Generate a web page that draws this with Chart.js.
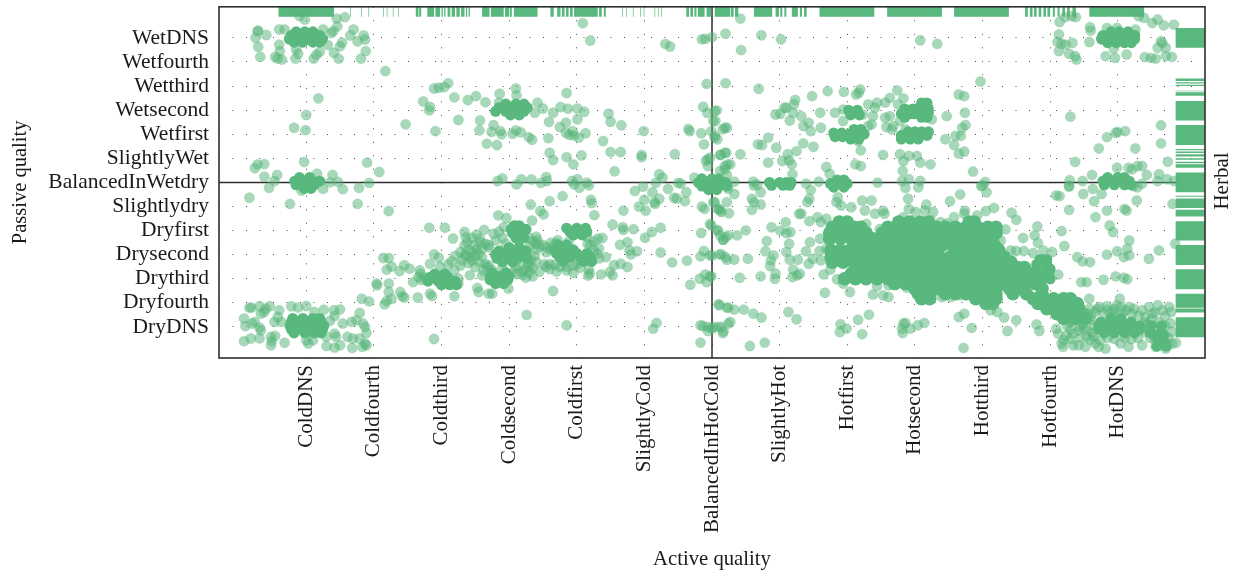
<!DOCTYPE html>
<html><head><meta charset="utf-8">
<style>html,body{margin:0;padding:0;background:#fff}#w{width:1239px;height:578px}</style>
<script src="https://cdn.jsdelivr.net/npm/chart.js@4/dist/chart.umd.min.js"></script>
</head><body><div id="w"><canvas id="c" width="1239" height="578"></canvas></div>
<script>
const activeLabels=["ColdDNS","Coldfourth","Coldthird","Coldsecond","Coldfirst","SlightlyCold","BalancedInHotCold","SlightlyHot","Hotfirst","Hotsecond","Hotthird","Hotfourth","HotDNS"];
const passiveLabels=["DryDNS","Dryfourth","Drythird","Drysecond","Dryfirst","Slightlydry","BalancedInWetdry","SlightlyWet","Wetfirst","Wetsecond","Wetthird","Wetfourth","WetDNS"];
const axisMin=-1.29, axisMax=13.29, centre=6;

// single herbs, [active, passive, ...]
const herbsUpperCold=[-0.02,12.76,-0.1,12.9,-0.72,12.28,-0.71,12.3,-0.59,12.12,-0.75,12,-0.71,11.63,-0.68,11.21,-0.4,12.35,-0.32,12.35,-0.4,11.72,-0.39,11.45,-0.46,11.21,-0.42,11.14,-0.36,11.1,-0.16,11.14,-0.12,11.34,-0.15,11.52,0.25,12.35,0.37,12.2,0.4,12.28,0.46,12.48,0.45,12.8,0.57,12.86,0.7,12.35,0.65,12.1,0.53,11.8,0.76,11.86,0.85,12.1,0.87,11.93,0.88,11.45,0.81,11.14,0.48,11.14,0.41,11.38,0.5,11.65,0.32,11.7,0.2,11.42,0.15,11.3,0.11,11.14,1.17,10.62,0.18,9.49,0,8.8,-0.18,8.27,-0.01,8.17,1.47,8.41,1.89,9.9,1.96,9.93,2.04,9.96,2.1,10.12,2.19,9.53,2.39,9.42,2.51,9.58,2.65,9.33,1.73,9.36,1.83,9.13,1.82,8.99,2.25,8.59,1.91,8.13,2.57,8.57,2.56,8.16,2.77,8.38,2.74,8.1,2.87,8.13,2.89,8,2.67,7.61,2.82,7.55,3.05,8.02,3.1,8.16,3.17,8.08,3.29,7.88,3.34,7.77,3.58,7.84,2.86,9.68,3.1,9.9,3.11,9.61,2.85,9.31,3.42,9.31,3.5,9.07,3.38,8.89,3.65,8.89,3.76,9.13,3.87,9.06,4.01,9.07,4.11,8.93,3.85,9.71,3.59,8.51,3.84,8.48,4.01,8.62,3.75,8.3,3.84,8.06,3.89,7.97,3.94,8.13,3.96,7.95,4.03,7.86,4.13,8.04,4.47,8.85,4.5,8.52,4.66,8.37,4.39,7.72,4.99,8.13,3.6,7.23,3.65,6.93,3.85,7.05,4.07,7.12,3.95,6.75,4.5,7.26,4.65,7.26,4.96,7.14,4.96,7.05,5.45,7.17,4.56,6.46,4.09,12.61,4.2,11.89,5.31,11.75,5.38,11.64,5.85,11.94,5.9,11.96,6,12.03,6.2,12.17,5.92,10.09,6.2,10.12,5.87,9.14,6.07,8.99,5.93,8.89,6.05,8.55,5.65,8.22,5.67,8.13,5.84,8.04,5.99,8.13,6.04,7.93,6.16,8.2,6.22,8.27,5.88,7.58,6.08,7.79,5.94,6.96,5.91,6.9,5.94,6.68,6.13,7.14,6.21,7.23,6.23,6.75,6.19,6.54,-0.76,6.59,-0.72,6.75,-0.62,6.76,-0.62,6.24,-0.43,6.31,-0.47,6.06,-0.03,6.85,0.9,6.82,1.08,6.43,0.16,6.36,0.39,6.31,0.35,6,0.47,6.02,0.93,5.98,-0.55,5.78,0.78,5.78,0.54,5.72,2.83,6.06,2.9,6.16,3.11,5.92,3.18,6.13,3.33,6.12,3.47,5.98,3.55,6.23,3.56,6.06,3.93,6.06,4.01,6.13,3.96,5.92,4.15,5.99,4.18,5.88,4.04,5.78,5.22,6.34,5.27,6.2,5.17,5.98,5.5,5.98,5.54,5.95,5.74,6.2,4.98,5.83,4.86,5.64];

const herbsLowerCold=[-0.84,5.36,-0.24,5.11,-0.07,5.66,0.76,5.11,1.22,4.81,0.25,5.73,5.12,5.59,5.35,5.73,5.22,5.32,5,5.28,4.92,5,5.15,5.18,5.16,5.11,5.02,4.83,5.44,5.36,5.48,5.33,5.6,5.22,5.62,5.59,4.69,4.83,4.53,4.25,4.68,4.14,4.69,4.03,4.84,4.06,5.24,4.12,5.11,3.94,5.01,3.7,4.64,3.41,4.75,3.52,4.78,3.18,4.89,3.14,4.8,3.01,5.24,3.09,5.41,2.68,5.63,2.75,5.85,5,5.89,4.9,6.04,5.18,6.11,4.9,6.14,4.77,5.84,3.9,5.99,4.21,6.09,4.01,6.16,3.62,6.24,3.8,5.88,3.15,5.83,2.93,6,2.96,6.14,3.01,5.82,2,5.9,2.18,5.92,1.86,5.99,2.1,5.68,1.75,6.11,0.9,6.24,0.8,5.83,0.07,5.87,0.04,5.94,0,6,-0.07,5.94,-0.17,6.09,0,6.17,-0.18,5.83,-0.65,6.24,0.14,3.79,5.43,3.6,5.22,3.32,5.08,4.21,5.28,4.22,5.14,4.26,4.64,3.46,4.81,3.51,4.67,3.34,4.42,2.84,4.63,2.96,4.52,2.92,4.14,1.82,4.12,2.05,4.12,2.34,3.94,2.17,3.67,2.63,4.03,2.52,3.83,2.77,3.87,2.36,3.72,2.38,3.52,2.34,3.38,2.28,3.11,2.57,3.66,2.6,3.25,2.52,3.25,2.8,3.59,2.45,2.76,2.3,2.76,2.15,2.73,2.5,2.49,1.89,3.01,1.96,2.87,1.83,2.62,1.68,2.35,1.69,2.21,1.66,2.07,1.58,1.86,2.19,2.35,2.42,2.15,2.6,2.14,2.67,2.49,2.25,1.8,2.19,1.28,1.83,1.38,1.86,1.28,2.53,1.62,2.55,1.45,2.7,1.38,2.75,1.38,2.99,1.59,3.65,1.49,3.26,0.5,3.85,0.07,1.89,-0.5,5.18,0.17,5.13,-0.07,1.14,2.86,1.22,2.86,1.19,2.38,1.26,2.51,1.38,2.32,1.45,2.56,1.53,2.42,1.04,1.8,1.05,1.73,1.22,1.8,1.22,1.45,1.39,1.45,1.42,1.27,1.45,1.22,1.26,1.17,1.19,1.08,1.16,0.94,1.65,1.22,0.82,1.17,0.93,1.06,4.18,2.38,4.19,2.22,4.17,2.13,4.36,2.18,4.49,2.28,4.53,2.14,4.55,2.56,4.65,2.62,4.75,2.49,4.43,2.9,4.33,3.25,4.31,3.66,4.38,3.69,4.16,3.45,3.3,3.7,3.42,3.6,3.5,3.4,3.4,3.2,3.55,3.1,3.3,2.5,3.45,2.3,3.52,2.6,3.4,2.7,3.35,2.1,3.2,2.3,3.25,2.05,3.1,2.45,3.6,2.4,3.7,2.3,3.85,2.35,3.95,2.25,4.05,2.45,3.72,3.6,3.88,3.55,2.9,3.7,2.95,3.45,2.7,3.4,2.65,2.6,2.9,2.45,-0.84,0.8,-0.81,0.8,-0.69,0.86,-0.6,0.76,-0.54,0.86,-0.62,0.62,-0.67,0.55,-0.4,0.69,-0.42,0.41,-0.47,0.21,-0.37,0.21,-0.22,0.86,-0.12,0.8,0,0.87,0.12,0.62,0.26,0.72,0.41,0.69,0.5,0.73,0.42,0.46,0.35,0.25,-0.92,0.35,-0.9,0.04,-0.8,0.14,-0.76,0.21,-0.69,-0.03,-0.67,-0.14,-0.82,-0.48,-0.92,-0.59,-0.69,-0.47,-0.52,-0.41,-0.46,-0.37,-0.51,-0.59,-0.52,-0.76,-0.32,-0.66,0,-0.55,0.03,-0.69,0.1,-0.55,0.3,-0.41,0.42,-0.28,0.44,-0.41,0.3,-0.79,0.42,-0.86,0.5,-0.76,0.54,0.14,0.61,-0.41,0.68,-0.87,0.69,-0.48,0.67,0.21,0.74,0.28,0.79,0.58,0.84,0.14,0.87,0,0.89,-0.25,0.79,-0.48,0.87,-0.69,0.83,-0.83,0.89,-0.76];

const herbsDrySecond=[2.4,3.2,2.45,3.1,2.55,3.05,2.65,3.45,2.7,3.3,2.35,3,2.42,2.9,2.5,2.95,2.6,2.9,2.55,2.7,2.7,2.55,2.75,2.35,2.62,2.35,3.12,3.65,3.35,3.55,3.4,3.45,3.45,3.35,3.3,3.35,3.38,2.95,3.32,2.8,3.28,2.65,3.35,2.45,3.25,2.4,3.15,2.55,3.05,2.25,3.12,2.2,3.2,2.15,3.3,2.25,3.55,3.3,3.62,3.2,3.6,2.6,3.55,2.5,3.68,2.6,3.75,2.5,3.85,2.5,3.95,2.55,4,2.6,4.2,3.4,4.25,3.2,4.3,3.05,4.33,2.85,3.65,3.35,3.62,3.5,3.7,3.48,3.95,3.8,4.15,3.75,4.25,3.55,1.98,2.5,2.1,2.6,2.05,2.2,1.75,2.05,1.7,1.95,2.25,2,2.28,2.55,2.4,2.65,2.35,2.95,2.2,2.95,2.48,3.4,2.58,3.5,2.45,3.7,3.2,3.85,2.85,3.95,3.4,3.75];

const herbsDryDnsHot=[11.3,0.6,11.4,0.5,11.3,0.2,11.45,0.3,11.5,0.6,11.6,0.45,11.7,0.75,11.85,0.7,11.95,0.75,12.05,0.8,12.12,0.7,11.95,0.48,11.25,0.05,11.3,-0.1,11.42,-0.15,11.5,-0.05,11.6,-0.55,11.45,-0.45,11.3,-0.5,11.2,-0.55,11.85,-0.45,11.95,-0.5,12.1,-0.45,12.2,-0.5,12.3,-0.45,12.4,-0.05,12.4,0.2,12.5,0.3,12.55,0.6,12.7,0.45,12.48,-0.45,12.55,-0.55,12.75,-0.45,12.8,-0.7,12.7,0.05];

const herbsUpperHot=[6.42,12.8,6.43,11.49,6.73,12.11,7.02,11.94,9.08,11.9,9.33,11.75,6.69,9.89,9.97,10.19,11.14,12.66,11.22,12.86,11.32,12.9,11.38,12.86,11.13,12.14,11.11,11.83,11.17,11.75,11.23,11.72,11.33,11.79,11.13,11.45,11.28,11.34,11.37,11.24,11.39,11.1,11.59,12.44,11.6,12.3,11.58,11.83,11.82,11.24,11.96,11.17,12.13,11.31,11.94,11.56,12.39,12.83,12.31,12.9,12.51,12.62,12.59,12.76,12.68,12.52,12.83,12.55,12.26,12.35,12.64,11.86,12.66,11.79,12.59,11.59,12.71,11.59,12.71,11.24,12.8,11.21,12.4,11.2,12.49,11.17,12.56,11.14,11.84,12.41,11.99,12.41,7.23,9.42,7.07,9.1,7.21,9.24,6.94,8.82,7.01,8.85,7.1,9.1,7.2,8.89,7.15,8.57,7.32,8.75,7.43,8.48,7.35,8.34,7.46,8.13,7.61,8.27,7.48,9.58,7.6,8.89,7.71,9.79,7.95,9.76,8.13,9.65,8.19,9.86,8.17,9.72,7.82,8.89,7.94,9.03,7.94,8.55,8.31,9.24,8.44,9.31,8.56,9.31,8.63,9.51,8.74,9.82,8.83,9.49,8.75,9.24,8.41,9.1,8.38,8.75,8.36,8.41,8.31,8.34,8.23,8.82,8.56,8.69,8.63,8.75,8.58,8.3,8.68,8.34,8.66,8.2,8.78,8.55,8.86,8.2,9.25,8.62,9.47,8.75,9.65,9.65,9.73,9.58,9.74,8.89,9.75,8.38,9.7,8.27,9.45,7.79,9.6,7.93,9.68,7.93,9.58,7.55,9.73,7.28,9.65,7.2,9.23,6.75,9.08,6.82,9.03,7.1,8.91,7.1,8.78,7.17,8.83,6.89,8.82,6.48,9.08,6.06,8.81,6.06,8.91,6.13,8.53,7.14,8.12,6.75,8.2,6.68,8.2,7.33,8.16,7.72,9.86,6.45,10.04,6.02,9.98,5.85,8.45,5.99,7.69,6.64,7.74,6.36,7.58,6.03,7.39,5.95,6.83,6.82,7.04,6.89,7.12,7.17,7.14,6.92,7.18,6.75,7.19,6.34,7.25,7.3,7.35,7.62,7.5,7.48,6.95,7.44,6.68,7.58,6.74,7.55,6.83,7.86,6.42,7.17,6.19,7.23,6.12,7.14,5.97,7.03,6.27,6.75,6.19,6.68,6.12,6.48,6.22,6.31,6.33,6.03,6.61,6.03,6.67,5.9,6.19,8.27,6.04,8.96,6.02,8.55,6.04,7.86,11.3,8.73,11.97,8.06,11.84,7.88,12,8.09,12.11,8.13,11.72,7.41,12.26,7.41,12.64,8.37,12.64,7.62,11.37,6.85,11.99,6.61,12.74,6.86,12.16,6.61,12.29,6.68,12.36,6.68,12.21,6.54,12.43,6.31,11.62,6.31,11.48,6.06,11.29,6.09,11.28,5.85,12.61,6.34,12.59,6.06,12.73,6.13,12.83,6.06,12.36,5.95,12.23,5.85];

const herbsLowerHot=[6.62,5.87,6.72,5.59,6.59,5.32,6.62,5.18,6.59,4.86,6.72,5.08,6.33,5.52,6.24,5.73,6.22,5.18,6.02,5.18,6.12,4.83,6.25,4.72,6.08,4.9,5.97,4.28,6.07,4.01,6.12,3.8,6.2,3.73,6.17,3.62,6.37,3.8,6.5,4.01,6.88,4.14,6.81,3.56,6.79,3.14,6.91,2.97,6.87,2.76,6.86,2.53,6.94,2.21,6.93,2,6.72,2.1,6.41,2.04,5.97,2.1,6.53,2.83,6.33,2.8,6.2,2.9,6.11,3.01,6.22,2.79,5.97,2.97,6.1,0.94,6.22,0.8,6.33,0.72,6.47,0.72,6.61,0.55,6.73,0.39,6.27,0.21,6.14,0,6.16,-0.25,6.02,0,6.56,-0.79,6.78,-0.65,7.13,0.62,7.25,0.32,7.9,0.11,7.99,-0.07,7.89,-0.21,8.16,0.3,8.32,0.51,8.22,-0.3,8.83,0.14,8.86,0.17,8.81,-0.07,8.82,-0.25,8.93,-0.07,9.04,0.07,9.14,0.17,9.65,0.41,9.73,0.55,9.84,-0.04,9.72,-0.87,10.37,-0.17,10.5,0.28,10.8,0.1,10.84,-0.17,10.32,0.39,10.22,0.62,10.12,0.69,7.46,5.69,7.44,5.32,7.41,5.18,7.29,4.7,7.32,4.7,7.44,4.39,7.56,4.56,7.61,4.35,7.69,4.49,7.09,4.35,7.01,4,7.1,3.9,7.16,3.94,7.14,3.45,7.1,3.11,7.15,2.79,7.27,2.79,7.43,2.62,7.45,3.52,7.39,3.14,7.49,2.83,7.61,2.76,7.59,3.15,7.69,3.25,7.6,3.66,7.2,2.38,7.19,2.07,7.26,2.14,7.3,2.21,7.65,2.18,7.75,2.38,7.67,1.42,7.85,1.98,7.94,1.8,8.04,1.45,8.38,1.34,8.44,1.69,8.61,1.73,8.53,1.31,8.61,1.24,8.88,1.63,9.15,1.24,9.24,1.24,9.4,1.24,9.53,1.24,9.68,1.31,9.88,1.31,10.1,1.1,7.84,5.18,7.86,5.39,7.91,5.04,8.06,4.97,8.22,5.25,8.36,5.25,8.26,4.83,8.41,4.7,8.53,4.83,8.55,4.7,8.28,4.28,8.48,4.07,8.83,4.56,8.91,4.9,9.01,4.77,9.15,4.83,9.17,5.08,9.27,4.77,8.9,5.32,8.86,5.77,9.05,5.8,9.52,5.22,9.67,5.5,9.74,4.83,9.73,4.7,9.92,4.63,10.05,4.81,10.17,4.94,9.58,4.56,9.38,4.35,9.48,4.31,9.23,4.42,10,5.87,10.06,5.59,10.43,4.74,10.5,4.45,10.34,4.05,10.19,4.14,10.27,3.59,10.6,3.69,10.81,4.17,10.77,3.8,10.82,3.49,10.42,3.18,10.5,3.15,10.61,3.15,10.75,3.07,10.9,3.18,11.03,3.11,11.09,5.46,11.14,5.43,11.28,4.86,11.17,3.98,11.21,3.36,11.12,2.17,11.4,2.9,11.48,2.72,11.59,2.69,11.84,3,11.99,3.14,12.14,3.25,12.17,3.59,12.09,2.9,12.17,2.97,12.46,2.83,12.61,3.18,12.85,3.45,11.28,5.83,11.49,5.52,11.63,5.73,11.65,5.22,11.76,5.52,11.84,4.83,11.67,4.56,11.88,4.21,11.93,3.94,12.1,4.9,12.13,4.83,12.28,5.25,11.46,1.86,11.54,1.86,11.79,1.96,11.97,2.1,12.09,2.04,12.14,1.98,11.58,1.17,12.03,1.17,12.81,5.11,12.29,5.8,11.09,-0.07,11.12,-0.28,11.17,-0.69,11.19,-0.83,11.34,-0.76,11.42,-0.76,11.52,-0.83,11.37,0.28,11.44,0,11.24,-0.35,11.34,-0.28,11.49,0.14,11.54,-0.41,11.64,-0.41,11.67,-0.69,11.72,-0.83,11.82,-0.9,11.74,-0.55,12.04,-0.69,12.16,-0.83,12.36,-0.76,12.56,-0.83,12.71,-0.9,12.61,-0.69,12.66,-0.76,12.86,-0.66,11.44,0.83,11.58,0.76,11.73,0.83,11.84,0.86,11.99,0.9,11.55,0.55,11.67,0.62,11.8,0.55,11.92,0.62,12.07,0.55,12.17,0.83,12.24,0.76,12.36,0.69,12.46,0.83,12.59,0.9,12.76,0.83,12.51,0.55,12.41,0.41,12.31,0.48,12.21,0.55,12.66,0.69,12.79,0.62,12.61,0.21,12.44,0.1,11.6,0.3,11.65,0.05,11.55,-0.15,11.62,-0.25,12.4,-0.2,12.78,0.15,12.8,-0.2];

// crowded cells, one row of active values per passive value
const crowdCold=[
[12.25,[-0.15,-0.02,0.1]],[12.1,[-0.22,-0.08,0.06,0.2]],[11.95,[-0.25,-0.12,0.02,0.16,0.24]],[11.82,[-0.18,-0.05,0.1,0.2]],
[6.2,[-0.1,0.05]],[6.05,[-0.17,-0.03,0.1,0.2]],[5.9,[-0.15,0,0.12]],[5.75,[-0.03,0.07]],
[0.35,[-0.2,-0.05,0.1,0.2]],[0.2,[-0.22,-0.08,0.06,0.22]],[0.05,[-0.24,-0.1,0.04,0.18,0.26]],[-0.1,[-0.22,-0.06,0.08,0.24]],[-0.25,[-0.18,-0.02,0.12,0.22]],
[2.2,[1.9,2.05]],[2.05,[1.82,1.95,2.1]],[1.9,[1.8,1.95,2.08,2.2]],[1.75,[2,2.12,2.22]],
[3.3,[3,3.15]],[3.15,[2.85,3,3.15,3.25]],[3,[2.8,2.95,3.1,3.25]],[2.85,[2.82,2.97,3.12,3.26]],[2.7,[2.9,3.05]],
[4.2,[3.08,3.15]],[4.05,[3.03,3.15,3.25]],[3.9,[3.05,3.18]],[3.7,[3.1,3.22]],
[2.25,[2.75,2.95]],[2.1,[2.72,2.85,3]],[1.95,[2.72,2.85,2.98]],[1.8,[2.8,2.92]],
[4.1,[3.85,4,4.13]],[3.95,[3.9,4.03,4.15]],[3.82,[3.95,4.08]],
[3.4,[3.72,3.85]],[3.2,[3.68,3.8,3.95]],[3.05,[3.7,3.85,4,4.15]],[2.9,[3.75,3.9,4.05,4.2]],[2.72,[3.8,4.1,4.22]],
[9.25,[2.95,3.1,3.22]],[9.1,[2.85,3,3.15,3.27]],[8.95,[2.8,2.95,3.1,3.22]],[8.8,[3.02,3.15]],
[6.15,[5.85,6,6.1]],[6,[5.8,5.93,6.06,6.2]],[5.85,[5.85,5.98,6.1,6.22]],[5.7,[5.95,6.07]]
];
const crowdHot=[
[6,[6.85,7,7.1,7.17]],[5.88,[6.88,7.05,7.15]],
[6.1,[7.85,7.95]],[5.95,[7.75,7.88,8]],[5.8,[7.8,7.95]],
[9,[8.02,8.15]],[8.8,[8.05,8.18]],
[9.05,[8.85,8.97,9.2]],[8.85,[8.8,8.92,9]],[8.7,[8.85,9.1,9.18]],[9.3,[9.1,9.18]],[9.12,[9.07]],[8.9,[9.07,9.2]],
[8.05,[7.8,7.92]],[7.9,[7.82,7.93]],[8.2,[8.1,8.2]],[8,[8.03,8.15,8.25]],[7.8,[8.05,8.17,8.8,8.93,9.05]],
[8.1,[8.9,9,9.1,9.2]],[7.95,[8.8,8.92,9.05,9.18]],
[12.25,[11.9,12.02,12.15]],[12.1,[11.78,11.9,12.02,12.14,12.25]],[11.95,[11.76,11.88,12,12.12,12.25]],[11.8,[11.85,11.98,12.1,12.2]],
[6.2,[11.85,12,12.1]],[6.05,[11.78,11.92,12.05,12.17]],[5.9,[11.8,11.95,12.1,12.2]],
[0.35,[11.9,12.05]],[0.2,[11.75,11.9,12.05,12.2]],[0.05,[11.72,11.87,12.02,12.17,12.32,12.5,12.65]],[-0.1,[11.72,11.87,12.02,12.17,12.32]],[-0.25,[11.8,11.95,12.1,12.25,12.48,12.63]],[-0.35,[12.55,12.68]],[-0.65,[12.6,12.7]],[-0.8,[12.58,12.72]],
[2.8,[10.85,10.95]],[2.6,[10.8,10.95]],[2.4,[10.8,10.95,11]],[2.2,[10.85,10.98]],[2,[10.88,11]]
];
const crowdMain=[
[4.35,[7.88,8,8.76,8.92,9.08,9.2,9.8,9.88]],
[4.14,[7.78,7.94,8.1,8.2,8.6,8.76,8.92,9.08,9.24,9.32,9.45,9.6,9.76,9.92,10.08,10.2]],
[3.9,[7.74,7.86,8.02,8.18,8.28,8.52,8.68,8.84,9,9.16,9.32,9.48,9.64,9.8,9.96,10.12,10.2]],
[3.66,[7.74,7.9,8.06,8.22,8.38,8.54,8.7,8.86,9.02,9.18,9.34,9.5,9.66,9.82,9.98,10.14]],
[3.38,[8.12,8.28,8.44,8.6,8.76,8.92,9.08,9.24,9.4,9.56,9.72,9.88,10.04,10.18]],
[3.18,[7.76,7.9,8.04,8.2,8.36,8.52,8.68,8.84,9,9.16,9.3,9.62,9.78,9.94,10.1,10.24]],
[2.9,[7.76,7.92,8.08,8.24,8.4,8.56,8.72,8.88,9.04,9.2,9.36,9.52,9.68,9.84,10,10.16,10.32]],
[2.69,[7.78,7.94,8.1,8.26,8.42,8.58,8.74,8.9,9.06,9.22,9.38,9.54,9.7,9.86,10.02,10.18,10.34,10.42]],
[2.46,[8.12,8.28,8.44,8.6,8.76,8.92,9.08,9.24,9.4,9.56,9.72,9.88,10.04,10.2,10.36,10.52,10.62]],
[2.21,[8.06,8.22,8.38,8.54,8.7,8.86,9.02,9.18,9.34,9.5,9.66,9.82,9.98,10.14,10.3,10.46,10.62,10.7]],
[2,[7.96,8.12,8.28,8.44,8.6,8.76,8.92,9.08,9.24,9.4,9.56,9.72,9.88,10.04,10.2,10.36,10.52,10.68,10.84]],
[1.8,[8.7,8.86,9.02,9.18,9.34,9.5,9.66,9.82,9.98,10.14,10.3,10.46,10.62,10.78]],
[1.59,[9,9.16,9.32,9.48,9.64,9.8,9.96,10.12,10.2,10.4,10.6,10.88]],
[1.38,[9.05,9.2,9.45,9.6,9.76,9.92,10.08,10.2,10.45,10.65,10.88]],
[1.17,[9.1,9.22,9.9,10.05,10.2,10.75,10.9,11.05,11.2,11.3]],
[0.97,[10.05,10.15,10.82,10.98,11.14,11.3,11.4]],
[0.76,[10.95,11.1,11.26,11.42]],
[0.55,[11.1,11.26,11.42]],
[0.35,[11.2,11.36,11.52]]
];
// margin rugs, [from, to]
const rugActive=[[-0.41,0.41],[0.65,0.66],[0.81,0.82],[0.92,0.93],[1.14,1.15],[1.19,1.2],[1.28,1.29],[1.36,1.37],[1.62,1.66],[1.67,1.7],[1.79,1.89],[1.91,1.98],[2,2.02],[2.04,2.06],[2.09,2.13],[2.15,2.2],[2.22,2.27],[2.29,2.34],[2.36,2.38],[2.4,2.42],[2.6,2.71],[2.73,2.92],[2.94,3],[3.01,3.04],[3.07,3.42],[3.61,3.66],[3.71,3.76],[3.78,3.82],[3.84,3.88],[3.9,3.94],[3.96,4.31],[4.33,4.37],[4.4,4.43],[4.67,4.68],[4.73,4.74],[4.83,4.84],[4.94,4.95],[4.99,5],[5.15,5.16],[5.2,5.21],[5.25,5.26],[5.62,5.66],[5.68,5.72],[5.74,5.77],[5.79,5.89],[5.92,5.99],[6.04,6.27],[6.28,6.32],[6.34,6.39],[6.62,6.89],[6.94,6.99],[7.01,7.04],[7.07,7.1],[7.18,7.27],[7.3,7.33],[7.36,7.4],[7.59,8.4],[8.59,9.4],[9.58,10.39],[10.63,10.67],[10.7,10.74],[10.76,10.8],[10.83,10.87],[10.9,10.94],[10.96,11],[11.04,11.07],[11.11,11.14],[11.18,11.22],[11.25,11.29],[11.33,11.38],[11.58,12.39]];
const rugPassive=[[-0.43,0.4],[0.6,0.76],[0.8,1.38],[1.56,2.39],[2.57,3.4],[3.59,4.39],[4.58,4.86],[4.94,5.33],[5.4,5.45],[5.59,6.41],[6.61,6.75],[6.79,6.86],[6.94,7],[7.08,7.17],[7.22,7.28],[7.33,7.39],[7.55,8.38],[8.57,9.38],[9.6,9.74],[9.78,9.81],[10,10.05],[10.11,10.16],[10.21,10.31],[11.59,12.41]];
const rugActiveAt=13.08, rugPassiveAt=13.07;
const rugActiveThick=10, rugPassiveThick=29;

const green='rgb(88,184,125)';
const pairs=a=>{const o=[];for(let i=0;i<a.length;i+=2)o.push({x:a[i],y:a[i+1]});return o;};
const rows=a=>a.flatMap(([y,xs])=>xs.map(x=>({x,y})));
const segH=(s,y)=>s.flatMap(([a,b])=>[{x:a,y},{x:b,y},{x:b,y:null}]);
const segV=(s,x)=>s.flatMap(([a,b])=>[{x,y:a},{x,y:b},{x,y:null}]);
const lineDs=(data,color,w)=>({type:'line',data,borderColor:color,borderWidth:w,borderDash:[3000,0],pointRadius:0,spanGaps:false,borderCapStyle:'butt',tension:0,fill:false});
const serif='"Liberation Serif", serif';
const textColor='#1a1a1a';

const frame={id:'frame',afterDatasetsDraw(c){const {ctx,chartArea:a}=c;ctx.save();ctx.strokeStyle='#2e2e2e';ctx.lineWidth=1.6;ctx.strokeRect(a.left,a.top,a.right-a.left,a.bottom-a.top);
 ctx.translate(1222,181);ctx.rotate(-Math.PI/2);ctx.fillStyle=textColor;ctx.font='21px '+serif;ctx.textAlign='center';ctx.textBaseline='middle';ctx.fillText('Herbal',0,0);ctx.restore();}};

const tickDash=[1,12.5];
new Chart(document.getElementById('c'),{
 type:'scatter',
 data:{datasets:[
  {data:rows(crowdMain),backgroundColor:green,borderWidth:0,pointRadius:6.8,pointHoverRadius:6.8},
  {data:rows(crowdCold).concat(rows(crowdHot)),backgroundColor:green,borderWidth:0,pointRadius:5.5,pointHoverRadius:5.5},
  {data:pairs(herbsUpperCold).concat(pairs(herbsLowerCold),pairs(herbsDrySecond),pairs(herbsDryDnsHot),pairs(herbsUpperHot),pairs(herbsLowerHot)),backgroundColor:'rgba(86,180,120,0.52)',borderColor:'rgba(88,184,125,0.12)',borderWidth:1,pointRadius:5.2,pointHoverRadius:5.2},
  lineDs(segH(rugActive,rugActiveAt),green,rugActiveThick),
  lineDs(segV(rugPassive,rugPassiveAt),green,rugPassiveThick),
  lineDs([{x:centre,y:axisMin},{x:centre,y:axisMax}],'#2e2e2e',1.5),
  lineDs([{x:axisMin,y:centre},{x:axisMax,y:centre}],'#2e2e2e',1.5)
 ]},
 options:{
  responsive:false,animation:false,devicePixelRatio:1,
  layout:{padding:{top:6,right:34,left:0,bottom:0}},
  plugins:{legend:{display:false},tooltip:{enabled:false}},
  events:[],
  scales:{
   x:{type:'linear',min:axisMin,max:axisMax,
    afterFit:s=>{s.height=220;s.paddingLeft=0;s.paddingRight=0;},
    afterBuildTicks:s=>{s.ticks=activeLabels.map((_,i)=>({value:i}));},
    border:{display:false,dash:tickDash},
    grid:{color:'#4a4a4a',lineWidth:1,drawTicks:false},
    ticks:{autoSkip:false,minRotation:90,maxRotation:90,padding:7,color:textColor,font:{family:serif,size:21},callback:v=>activeLabels[v]},
    title:{display:true,text:'Active quality',color:textColor,font:{family:serif,size:20.7},padding:{top:0,bottom:6}}},
   y:{type:'linear',min:axisMin,max:axisMax,
    afterFit:s=>{s.width=219;s.paddingTop=0;s.paddingBottom=0;},
    afterBuildTicks:s=>{s.ticks=passiveLabels.map((_,i)=>({value:i}));},
    border:{display:false,dash:tickDash},
    grid:{color:'#4a4a4a',lineWidth:1,drawTicks:false},
    ticks:{autoSkip:false,padding:10,color:textColor,font:{family:serif,size:21.5},callback:v=>passiveLabels[v]},
    title:{display:true,text:'Passive quality',color:textColor,font:{family:serif,size:20.5},padding:{top:8,bottom:0}}}
  }
 },
 plugins:[frame]
});
</script></body></html>
